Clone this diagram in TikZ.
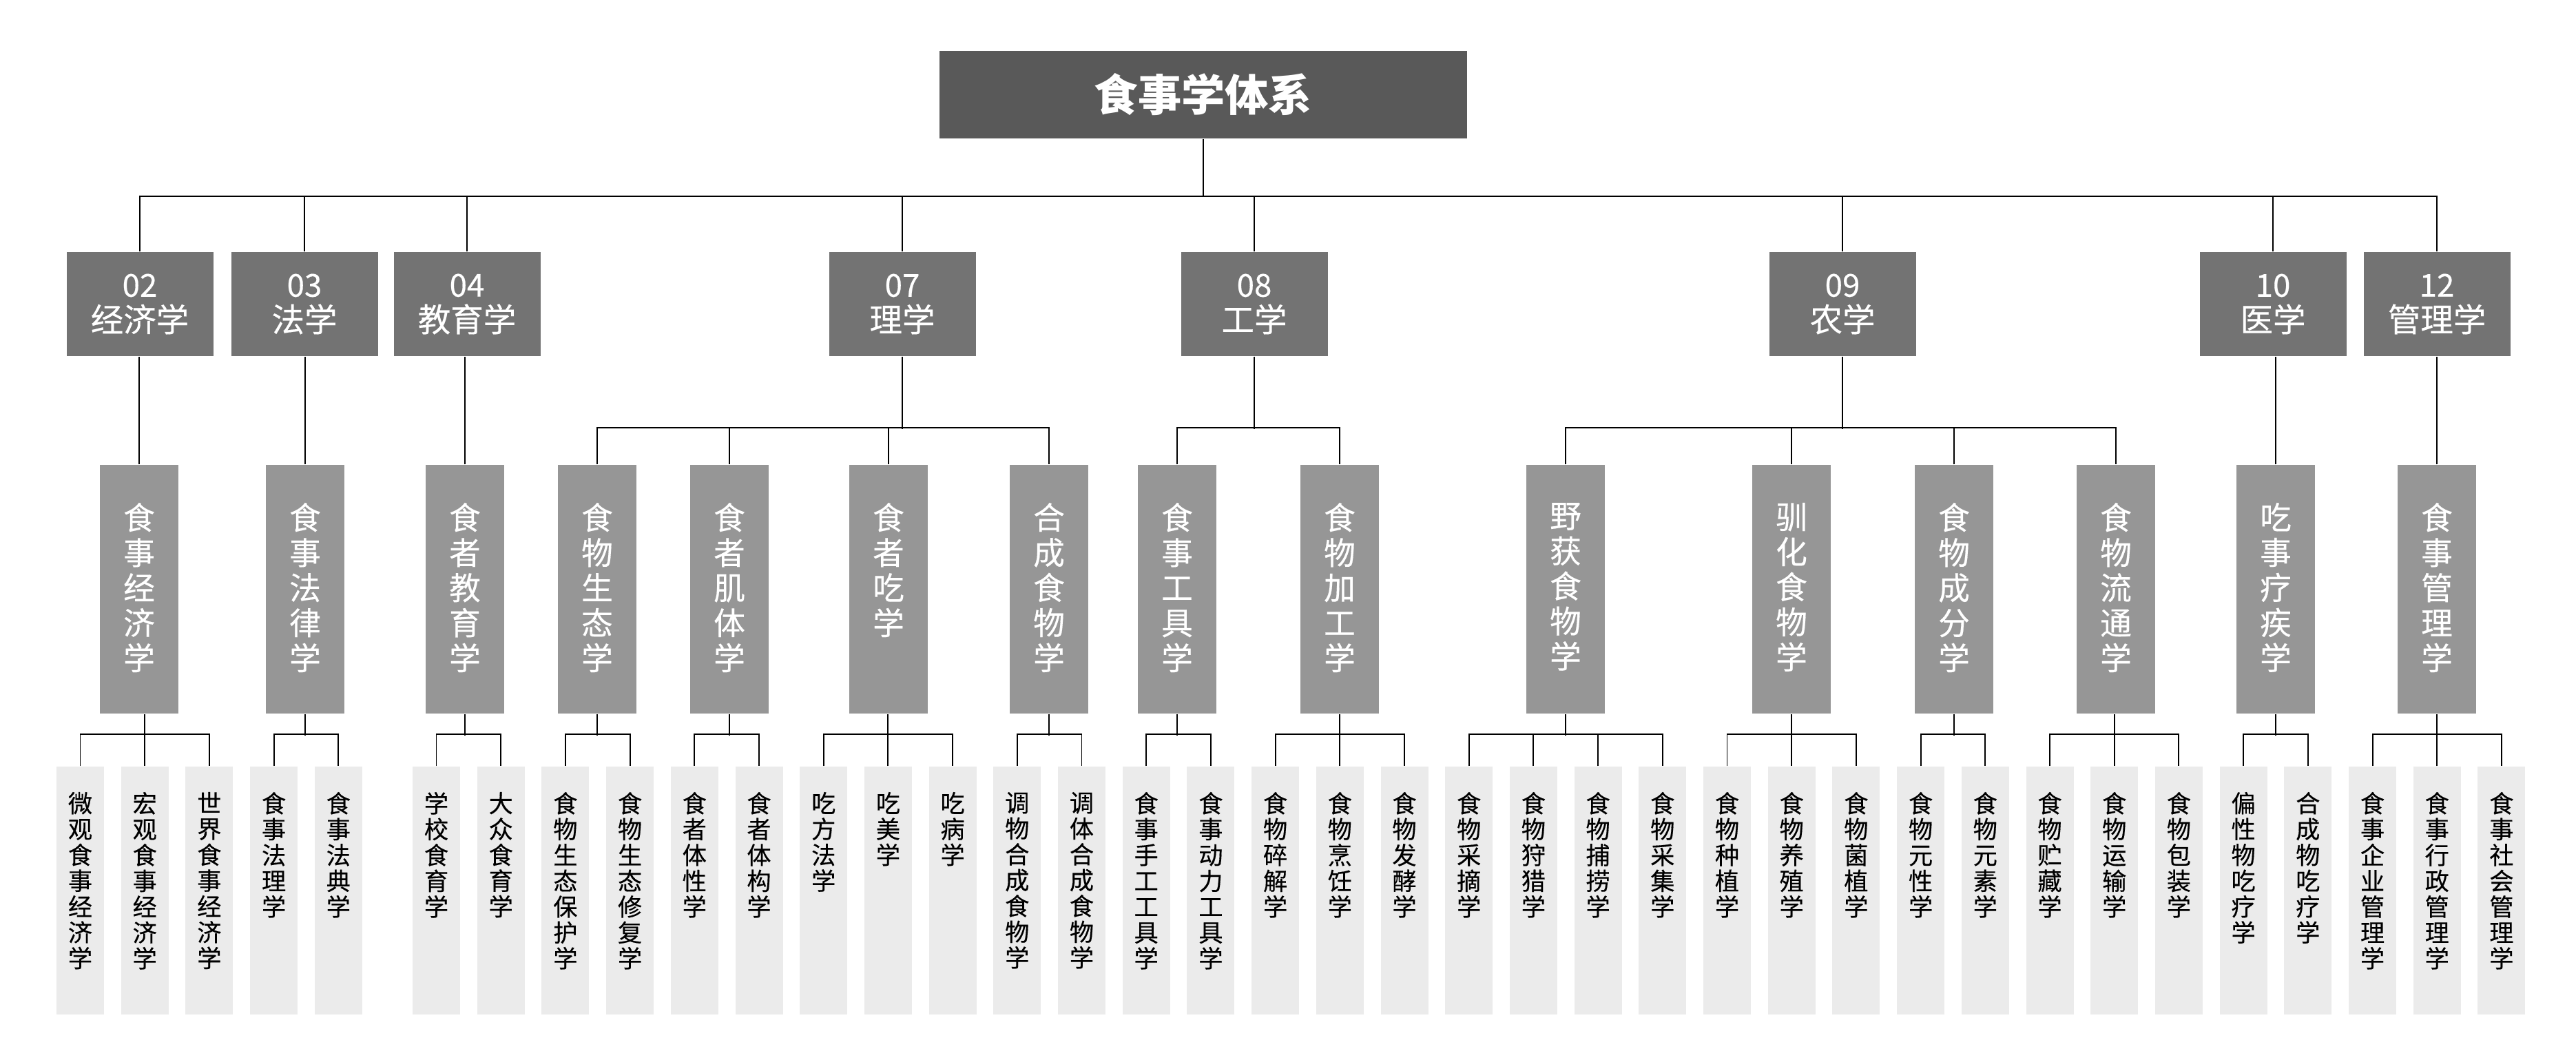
\documentclass[tikz,border=0pt]{standalone}
\usepackage{fontspec}
\setmainfont{Noto Sans CJK SC}
\newfontfamily\medfont{Noto Sans CJK SC}[FakeBold=0.35]
\usepackage{xcolor}
\usepackage{tikz}

\definecolor{rootgray}{RGB}{89,89,89}
\definecolor{classgray}{RGB}{115,115,115}
\definecolor{fieldgray}{RGB}{150,150,150}
\definecolor{leafgray}{RGB}{235,235,235}

% one character per line
\makeatletter
\newcommand\stackchars[1]{\stack@next#1\@nil}
\def\stack@next#1{\ifx\@nil#1\else#1\par\expandafter\stack@next\fi}
\makeatother
\newcommand\fieldtext[1]{\parbox[c][3.61cm][t]{1.14cm}{\centering
  \medfont\fontsize{13pt}{14.5pt}\selectfont\vspace*{0.55cm}\stackchars{#1}}}
\newcommand\leaftext[1]{\parbox[c][3.6cm][t]{0.69cm}{\centering
  \medfont\fontsize{10pt}{10.67pt}\selectfont\vspace*{0.37cm}\stackchars{#1}}}
\newcommand\classnum[1]{{\fontsize{13pt}{14.5pt}\selectfont #1}}

\tikzset{
  rootbox/.style={
    fill=rootgray, text=white, inner sep=0pt,
    minimum width=7.66cm, minimum height=1.27cm,
    font=\fontsize{18pt}{18pt}\selectfont\bfseries
  },
  classbox/.style={
    fill=classgray, text=white, inner sep=0pt, align=center,
    minimum width=2.13cm, minimum height=1.51cm,
    font=\medfont\fontsize{13.5pt}{14.5pt}\selectfont
  },
  fieldbox/.style={
    fill=fieldgray, text=white, inner sep=0pt,
    minimum width=1.14cm, minimum height=3.61cm
  },
  leafbox/.style={
    fill=leafgray, text=black, inner sep=0pt,
    minimum width=0.69cm, minimum height=3.6cm
  },
  treeline/.style={draw=black, line width=0.55pt}
}

\begin{document}
\begin{tikzpicture}
  \path[use as bounding box] (0,0) rectangle (37.4,-15.1);

  % Root
  \node[rootbox] (root) at (17.47,-1.375) {食事学体系};

  % Disciplines
  \node[classbox] (c02) at (2.03,-4.415)  {\classnum{02}\\经济学};
  \node[classbox] (c03) at (4.42,-4.415)  {\classnum{03}\\法学};
  \node[classbox] (c04) at (6.78,-4.415)  {\classnum{04}\\教育学};
  \node[classbox] (c07) at (13.10,-4.415) {\classnum{07}\\理学};
  \node[classbox] (c08) at (18.21,-4.415) {\classnum{08}\\工学};
  \node[classbox] (c09) at (26.75,-4.415) {\classnum{09}\\农学};
  \node[classbox] (c10) at (33.00,-4.415) {\classnum{10}\\医学};
  \node[classbox] (c12) at (35.38,-4.415) {\classnum{12}\\管理学};

  % Fields
  \node[fieldbox] (m1)  at (2.02,-8.555)  {\fieldtext{食事经济学}};
  \node[fieldbox] (m2)  at (4.43,-8.555)  {\fieldtext{食事法律学}};
  \node[fieldbox] (m3)  at (6.75,-8.555)  {\fieldtext{食者教育学}};
  \node[fieldbox] (m4)  at (8.67,-8.555)  {\fieldtext{食物生态学}};
  \node[fieldbox] (m5)  at (10.59,-8.555) {\fieldtext{食者肌体学}};
  \node[fieldbox] (m6)  at (12.90,-8.555) {\fieldtext{食者吃学}};
  \node[fieldbox] (m7)  at (15.23,-8.555) {\fieldtext{合成食物学}};
  \node[fieldbox] (m8)  at (17.09,-8.555) {\fieldtext{食事工具学}};
  \node[fieldbox] (m9)  at (19.45,-8.555) {\fieldtext{食物加工学}};
  \node[fieldbox] (m10) at (22.73,-8.555) {\fieldtext{野获食物学}};
  \node[fieldbox] (m11) at (26.01,-8.555) {\fieldtext{驯化食物学}};
  \node[fieldbox] (m12) at (28.37,-8.555) {\fieldtext{食物成分学}};
  \node[fieldbox] (m13) at (30.72,-8.555) {\fieldtext{食物流通学}};
  \node[fieldbox] (m14) at (33.04,-8.555) {\fieldtext{吃事疗疾学}};
  \node[fieldbox] (m15) at (35.38,-8.555) {\fieldtext{食事管理学}};

  % Leaves
  \node[leafbox] (l1)  at (1.165,-12.93)  {\leaftext{微观食事经济学}};
  \node[leafbox] (l2)  at (2.102,-12.93)  {\leaftext{宏观食事经济学}};
  \node[leafbox] (l3)  at (3.039,-12.93)  {\leaftext{世界食事经济学}};
  \node[leafbox] (l4)  at (3.976,-12.93)  {\leaftext{食事法理学}};
  \node[leafbox] (l5)  at (4.913,-12.93)  {\leaftext{食事法典学}};
  \node[leafbox] (l6)  at (6.335,-12.93)  {\leaftext{学校食育学}};
  \node[leafbox] (l7)  at (7.272,-12.93)  {\leaftext{大众食育学}};
  \node[leafbox] (l8)  at (8.209,-12.93)  {\leaftext{食物生态保护学}};
  \node[leafbox] (l9)  at (9.146,-12.93)  {\leaftext{食物生态修复学}};
  \node[leafbox] (l10) at (10.083,-12.93) {\leaftext{食者体性学}};
  \node[leafbox] (l11) at (11.020,-12.93) {\leaftext{食者体构学}};
  \node[leafbox] (l12) at (11.957,-12.93) {\leaftext{吃方法学}};
  \node[leafbox] (l13) at (12.894,-12.93) {\leaftext{吃美学}};
  \node[leafbox] (l14) at (13.831,-12.93) {\leaftext{吃病学}};
  \node[leafbox] (l15) at (14.768,-12.93) {\leaftext{调物合成食物学}};
  \node[leafbox] (l16) at (15.705,-12.93) {\leaftext{调体合成食物学}};
  \node[leafbox] (l17) at (16.642,-12.93) {\leaftext{食事手工工具学}};
  \node[leafbox] (l18) at (17.579,-12.93) {\leaftext{食事动力工具学}};
  \node[leafbox] (l19) at (18.516,-12.93) {\leaftext{食物碎解学}};
  \node[leafbox] (l20) at (19.453,-12.93) {\leaftext{食物烹饪学}};
  \node[leafbox] (l21) at (20.390,-12.93) {\leaftext{食物发酵学}};
  \node[leafbox] (l22) at (21.327,-12.93) {\leaftext{食物采摘学}};
  \node[leafbox] (l23) at (22.264,-12.93) {\leaftext{食物狩猎学}};
  \node[leafbox] (l24) at (23.201,-12.93) {\leaftext{食物捕捞学}};
  \node[leafbox] (l25) at (24.138,-12.93) {\leaftext{食物采集学}};
  \node[leafbox] (l26) at (25.075,-12.93) {\leaftext{食物种植学}};
  \node[leafbox] (l27) at (26.012,-12.93) {\leaftext{食物养殖学}};
  \node[leafbox] (l28) at (26.949,-12.93) {\leaftext{食物菌植学}};
  \node[leafbox] (l29) at (27.886,-12.93) {\leaftext{食物元性学}};
  \node[leafbox] (l30) at (28.823,-12.93) {\leaftext{食物元素学}};
  \node[leafbox] (l31) at (29.760,-12.93) {\leaftext{食物贮藏学}};
  \node[leafbox] (l32) at (30.697,-12.93) {\leaftext{食物运输学}};
  \node[leafbox] (l33) at (31.634,-12.93) {\leaftext{食物包装学}};
  \node[leafbox] (l34) at (32.571,-12.93) {\leaftext{偏性物吃疗学}};
  \node[leafbox] (l35) at (33.508,-12.93) {\leaftext{合成物吃疗学}};
  \node[leafbox] (l36) at (34.445,-12.93) {\leaftext{食事企业管理学}};
  \node[leafbox] (l37) at (35.382,-12.93) {\leaftext{食事行政管理学}};
  \node[leafbox] (l38) at (36.319,-12.93) {\leaftext{食事社会管理学}};

  % Root to disciplines
  \draw[treeline] (root.south) -- ++(0,-0.84);
  \draw[treeline] (c02.north) -- ++(0,0.8) -| (c12.north);
  \draw[treeline] (c03.north) -- ++(0,0.8);
  \draw[treeline] (c04.north) -- ++(0,0.8);
  \draw[treeline] (c07.north) -- ++(0,0.8);
  \draw[treeline] (c08.north) -- ++(0,0.8);
  \draw[treeline] (c09.north) -- ++(0,0.8);
  \draw[treeline] (c10.north) -- ++(0,0.8);

  % Disciplines to fields
  \draw[treeline] (m1.north) -- (m1.north |- c02.south);
  \draw[treeline] (m2.north) -- (m2.north |- c03.south);
  \draw[treeline] (m3.north) -- (m3.north |- c04.south);
  \draw[treeline] (c07.south) -- ++(0,-1.05);
  \draw[treeline] (m4.north) -- ++(0,0.53) -| (m7.north);
  \draw[treeline] (m5.north) -- ++(0,0.53);
  \draw[treeline] (m6.north) -- ++(0,0.53);
  \draw[treeline] (c08.south) -- ++(0,-1.05);
  \draw[treeline] (m8.north) -- ++(0,0.53) -| (m9.north);
  \draw[treeline] (c09.south) -- ++(0,-1.05);
  \draw[treeline] (m10.north) -- ++(0,0.53) -| (m13.north);
  \draw[treeline] (m11.north) -- ++(0,0.53);
  \draw[treeline] (m12.north) -- ++(0,0.53);
  \draw[treeline] (m14.north) -- (m14.north |- c10.south);
  \draw[treeline] (m15.north) -- (m15.north |- c12.south);

  % Fields to leaves
  \draw[treeline] (l2.north) -- (l2.north |- m1.south);
  \draw[treeline] (l1.north) -- ++(0,0.46) -| (l3.north);
  \draw[treeline] (m2.south) -- ++(0,-0.31);
  \draw[treeline] (l4.north) -- ++(0,0.46) -| (l5.north);
  \draw[treeline] (m3.south) -- ++(0,-0.31);
  \draw[treeline] (l6.north) -- ++(0,0.46) -| (l7.north);
  \draw[treeline] (m4.south) -- ++(0,-0.31);
  \draw[treeline] (l8.north) -- ++(0,0.46) -| (l9.north);
  \draw[treeline] (m5.south) -- ++(0,-0.31);
  \draw[treeline] (l10.north) -- ++(0,0.46) -| (l11.north);
  \draw[treeline] (l13.north) -- (l13.north |- m6.south);
  \draw[treeline] (l12.north) -- ++(0,0.46) -| (l14.north);
  \draw[treeline] (m7.south) -- ++(0,-0.31);
  \draw[treeline] (l15.north) -- ++(0,0.46) -| (l16.north);
  \draw[treeline] (m8.south) -- ++(0,-0.31);
  \draw[treeline] (l17.north) -- ++(0,0.46) -| (l18.north);
  \draw[treeline] (l20.north) -- (l20.north |- m9.south);
  \draw[treeline] (l19.north) -- ++(0,0.46) -| (l21.north);
  \draw[treeline] (m10.south) -- ++(0,-0.31);
  \draw[treeline] (l22.north) -- ++(0,0.46) -| (l25.north);
  \draw[treeline] (l23.north) -- ++(0,0.46);
  \draw[treeline] (l24.north) -- ++(0,0.46);
  \draw[treeline] (l27.north) -- (l27.north |- m11.south);
  \draw[treeline] (l26.north) -- ++(0,0.46) -| (l28.north);
  \draw[treeline] (m12.south) -- ++(0,-0.31);
  \draw[treeline] (l29.north) -- ++(0,0.46) -| (l30.north);
  \draw[treeline] (l32.north) -- (l32.north |- m13.south);
  \draw[treeline] (l31.north) -- ++(0,0.46) -| (l33.north);
  \draw[treeline] (m14.south) -- ++(0,-0.31);
  \draw[treeline] (l34.north) -- ++(0,0.46) -| (l35.north);
  \draw[treeline] (l37.north) -- (l37.north |- m15.south);
  \draw[treeline] (l36.north) -- ++(0,0.46) -| (l38.north);
\end{tikzpicture}
\end{document}
